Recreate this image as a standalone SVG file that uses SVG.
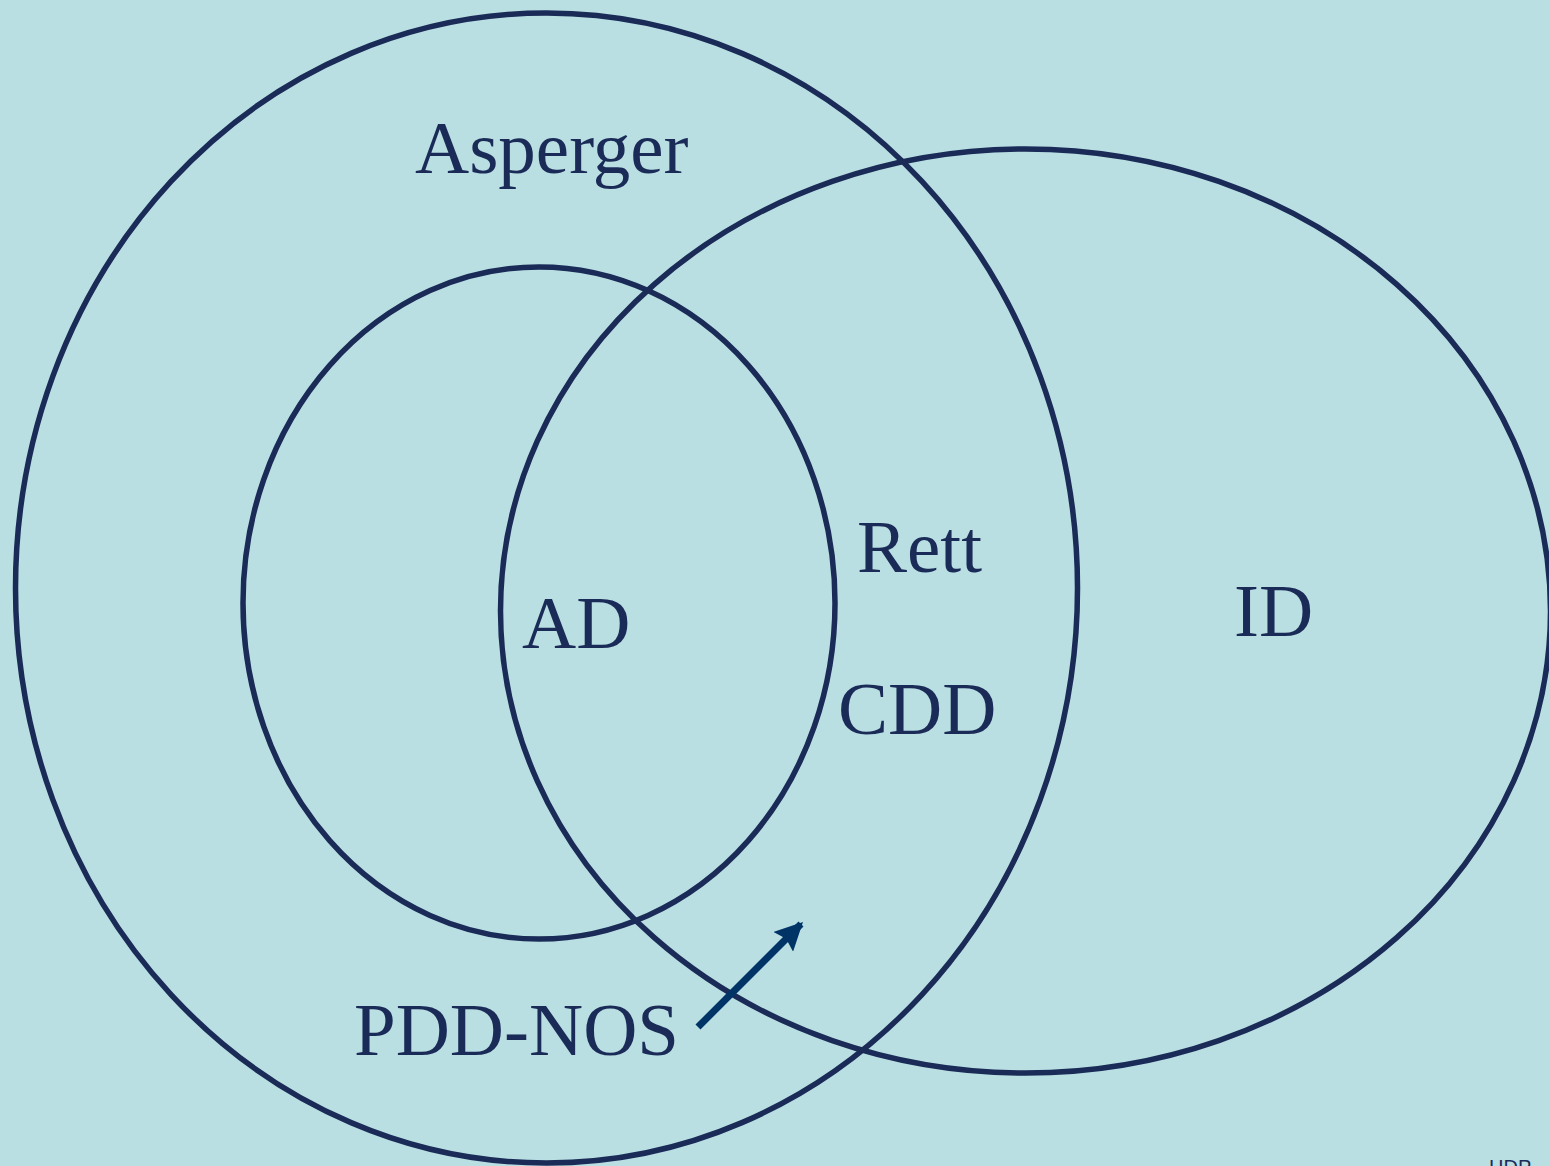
<svg xmlns="http://www.w3.org/2000/svg" width="1549" height="1166" viewBox="0 0 1549 1166">
  <style>
    .ring { fill: none; stroke: #1a2b57; stroke-width: 5.5; }
    .lbl { font-family: "Liberation Serif", "Times New Roman", serif; fill: #1a2b57; font-size: 75px; }
    .note { font-family: "Liberation Sans", Arial, sans-serif; fill: #1a2b57; font-size: 20px; }
  </style>
  <defs>
    <marker id="head" viewBox="0 0 10 10" refX="9" refY="5" markerWidth="4" markerHeight="4" orient="auto" markerUnits="strokeWidth">
      <path d="M0,0 L10,5 L0,10 L1.5,5 Z" fill="#003366"/>
    </marker>
  </defs>
  <rect x="0" y="0" width="1549" height="1166" fill="#b9dfe3"/>

  <g id="asperger">
    <ellipse class="ring" cx="546.5" cy="588" rx="531" ry="575"/>
    <text class="lbl" x="415" y="173">Asperger</text>
  </g>
  <g id="ad">
    <ellipse class="ring" cx="539" cy="603" rx="296" ry="336"/>
    <text class="lbl" x="522" y="648" font-size="62">AD</text>
  </g>
  <g id="id">
    <ellipse class="ring" cx="1025.5" cy="611" rx="525" ry="462"/>
    <text class="lbl" x="1234" y="636">ID</text>
  </g>
  <g id="rett">
    <text class="lbl" x="857" y="572">Rett</text>
  </g>
  <g id="cdd">
    <text class="lbl" x="838" y="734">CDD</text>
  </g>
  <g id="pdd-nos">
    <text class="lbl" x="354" y="1055">PDD-NOS</text>
  </g>

  <g id="connectors">
    <line x1="698" y1="1027" x2="801" y2="924" stroke="#003366" stroke-width="7" marker-end="url(#head)"/>
  </g>

  <text class="note" x="1489" y="1174">HDP</text>
</svg>
